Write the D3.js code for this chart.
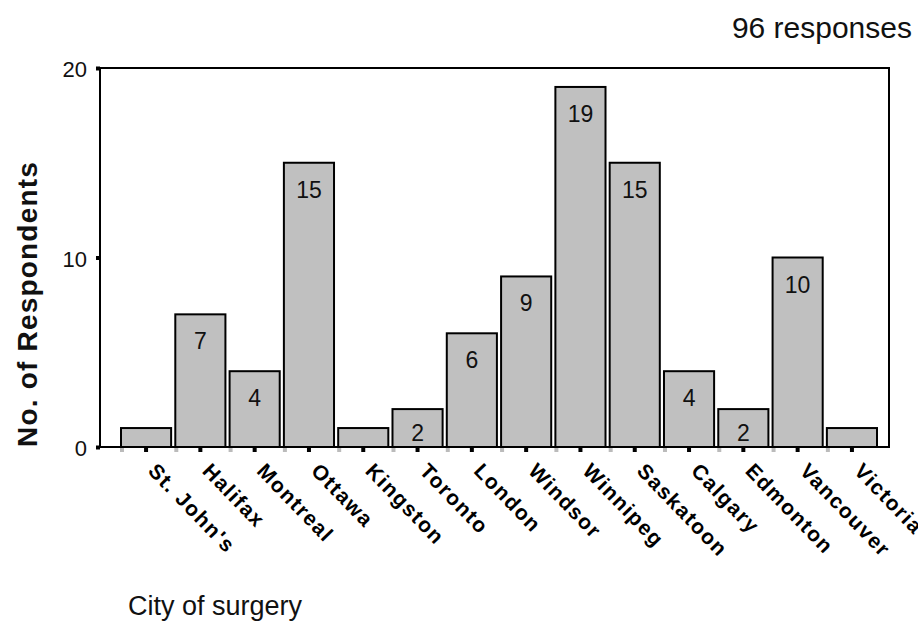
<!DOCTYPE html>
<html>
<head>
<meta charset="utf-8">
<script src="https://cdn.jsdelivr.net/npm/d3@7/dist/d3.min.js"></script>
<style>
  html, body { margin: 0; padding: 0; background: #fff; }
  svg { display: block; }
  text { font-family: "Liberation Sans", Arial, sans-serif; }
</style>
</head>
<body>
<script>
// Survey: number of respondents per city of surgery
const categories = ["St. John's", "Halifax", "Montreal", "Ottawa", "Kingston", "Toronto",
  "London", "Windsor", "Winnipeg", "Saskatoon", "Calgary", "Edmonton", "Vancouver", "Victoria"];
const counts = [1, 7, 4, 15, 1, 2, 6, 9, 19, 15, 4, 2, 10, 1];
const yTicks = [0, 10, 20];
const totalLabel = "96 responses";
const xTitle = "City of surgery";
const yTitle = "No. of Respondents";

const W = 918, H = 637;
const plot = { left: 100, right: 889, top: 68, bottom: 447 };

const svg = d3.select("body").append("svg")
  .attr("width", W).attr("height", H);

svg.append("rect").attr("width", W).attr("height", H).attr("fill", "#fff");

const x = d3.scaleBand()
  .domain(categories)
  .range([120, 878])
  .paddingInner(0.04);

const y = d3.scaleLinear()
  .domain([0, 20])
  .range([plot.bottom, plot.top]);

// bars
const bars = svg.append("g");
bars.selectAll("rect")
  .data(categories)
  .join("rect")
  .attr("x", d => x(d) + 1)
  .attr("width", x.bandwidth() - 2)
  .attr("y", (d, i) => y(counts[i]))
  .attr("height", (d, i) => y(0) - y(counts[i]))
  .attr("fill", "#c0c0c0")
  .attr("stroke", "#000")
  .attr("stroke-width", 2);

// value labels inside bars (bars too short for a label are left bare)
bars.selectAll("text")
  .data(categories.filter((d, i) => counts[i] >= 2))
  .join("text")
  .attr("x", d => x(d) + x.bandwidth() / 2)
  .attr("y", d => {
    const v = counts[categories.indexOf(d)];
    return Math.min(y(v) + 35, y(0) - 6);
  })
  .attr("text-anchor", "middle")
  .attr("font-size", 23)
  .attr("fill", "#111")
  .text(d => counts[categories.indexOf(d)]);

// frame
svg.append("rect")
  .attr("x", plot.left).attr("y", plot.top)
  .attr("width", plot.right - plot.left)
  .attr("height", plot.bottom - plot.top)
  .attr("fill", "none")
  .attr("stroke", "#000")
  .attr("stroke-width", 2);

// y axis
const yAxis = svg.append("g")
  .attr("transform", `translate(${plot.left},0)`)
  .call(d3.axisLeft(y).tickValues(yTicks).tickSize(4).tickPadding(9));
yAxis.select(".domain").remove();
yAxis.selectAll(".tick line").attr("stroke", "#000").attr("stroke-width", 4);
yAxis.selectAll(".tick text")
  .attr("font-size", 22)
  .attr("fill", "#111")
  .attr("dy", "0.4em")
  .attr("font-family", "Liberation Sans, Arial, sans-serif");

// x axis: tick marks at category centres and grey marks at bar edges
const xAxis = svg.append("g")
  .attr("transform", `translate(0,${plot.bottom})`)
  .call(d3.axisBottom(x).tickSize(0).tickPadding(0));
xAxis.select(".domain").remove();
xAxis.selectAll(".tick").append("rect")
  .attr("x", -2).attr("y", 1).attr("width", 4).attr("height", 4)
  .attr("fill", "#000");
xAxis.selectAll(".tick").append("rect")
  .attr("x", -x.bandwidth() / 2).attr("y", 1).attr("width", 4).attr("height", 4)
  .attr("fill", "#bbb");
xAxis.selectAll(".tick text")
  .attr("font-size", 21)
  .attr("font-weight", "bold")
  .attr("letter-spacing", 1.5)
  .attr("fill", "#000")
  .attr("font-family", "Liberation Sans, Arial, sans-serif")
  .attr("text-anchor", "start")
  .attr("dy", 0)
  .attr("transform", "translate(1,25) rotate(46)");

// titles
svg.append("text")
  .attr("transform", `translate(37,304) rotate(-90)`)
  .attr("text-anchor", "middle")
  .attr("font-size", 28)
  .attr("font-weight", "bold")
  .attr("letter-spacing", 1.2)
  .attr("fill", "#111")
  .text(yTitle);

svg.append("text")
  .attr("x", 128).attr("y", 615)
  .attr("font-size", 27)
  .attr("fill", "#111")
  .text(xTitle);

svg.append("text")
  .attr("x", 912).attr("y", 38)
  .attr("text-anchor", "end")
  .attr("font-size", 30)
  .attr("fill", "#111")
  .text(totalLabel);
</script>
</body>
</html>
